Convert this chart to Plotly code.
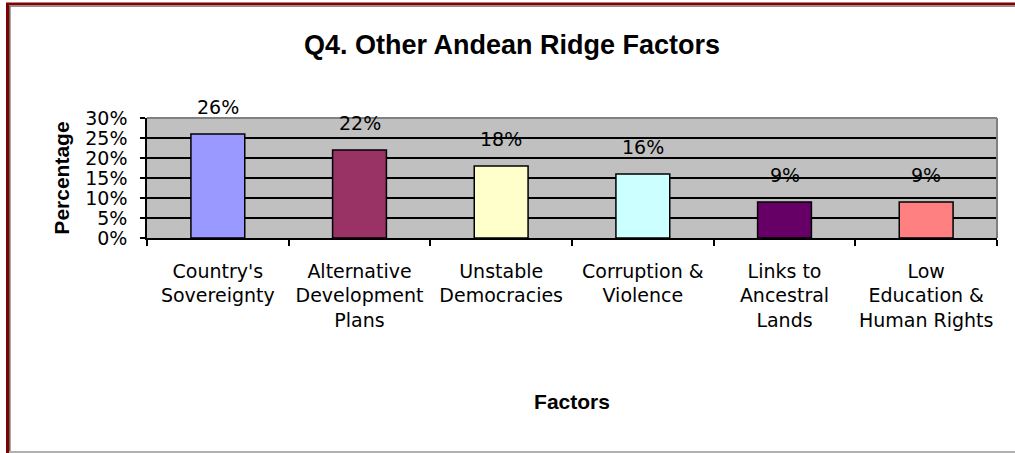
import plotly.graph_objects as go

categories = ["Country's<br>Sovereignty", "Alternative<br>Development<br>Plans",
              "Unstable<br>Democracies", "Corruption &<br>Violence",
              "Links to<br>Ancestral<br>Lands", "Low<br>Education &<br>Human Rights"]
values = [26, 22, 18, 16, 9, 9]
bar_colors = ["#9999FF", "#993366", "#FFFFCC", "#CCFFFF", "#660066", "#FF8080"]
y_ticks = [0, 5, 10, 15, 20, 25, 30]
y_tick_labels = [f"{v}%" for v in y_ticks]

W, H = 1015, 453
ML, MR, MT, MB = 147, 18, 118, 215
PW, PH = W - ML - MR, H - MT - MB

def px_x(x):
    return (x - ML) / PW

def px_y(y):
    return (H - MB - y) / PH

TICK_FONT = dict(family="DejaVu Sans, Verdana, sans-serif", size=19, color="black")
BOLD_FONT = "Liberation Sans, Arial, sans-serif"

fig = go.Figure()
fig.add_trace(go.Bar(
    x=categories, y=values,
    marker=dict(color=bar_colors, line=dict(color="black", width=1.5)),
    showlegend=False, hoverinfo="skip",
))

for c, v in zip(categories, values):
    fig.add_annotation(x=c, y=v, text=f"{v}%", showarrow=False,
                       yanchor="middle", yshift=27, font=TICK_FONT)

shapes = [
    dict(type="line", xref="paper", yref="paper", x0=0, x1=1, y0=1, y1=1,
         line=dict(color="#808080", width=2), layer="above"),
    dict(type="line", xref="paper", yref="paper", x0=1, x1=1, y0=0, y1=1,
         line=dict(color="#808080", width=2), layer="above"),
    dict(type="line", xref="paper", yref="paper", x0=px_x(6), x1=px_x(W), y0=px_y(4), y1=px_y(4),
         line=dict(color="#800000", width=3)),
    dict(type="line", xref="paper", yref="paper", x0=px_x(9), x1=px_x(W), y0=px_y(6.3), y1=px_y(6.3),
         line=dict(color="#909090", width=1.5)),
    dict(type="line", xref="paper", yref="paper", x0=px_x(7.5), x1=px_x(7.5), y0=px_y(3), y1=px_y(H),
         line=dict(color="#800000", width=3)),
    dict(type="line", xref="paper", yref="paper", x0=px_x(9.8), x1=px_x(9.8), y0=px_y(6), y1=px_y(H),
         line=dict(color="#606060", width=1.5)),
    dict(type="line", xref="paper", yref="paper", x0=px_x(9), x1=px_x(W), y0=px_y(452), y1=px_y(452),
         line=dict(color="#B0B0B0", width=2)),
]

fig.update_layout(
    width=W, height=H,
    margin=dict(l=ML, r=MR, t=MT, b=MB, autoexpand=False),
    paper_bgcolor="white", plot_bgcolor="#C0C0C0",
    bargap=0.62,
    shapes=shapes,
    title=dict(text="<b>Q4. Other Andean Ridge Factors</b>", x=512 / W, xanchor="center",
               y=1 - 45 / H, yanchor="middle", xref="container", yref="container",
               font=dict(family=BOLD_FONT, size=27, color="black")),
    font=TICK_FONT,
)
fig.update_xaxes(
    showline=True, linecolor="black", linewidth=1.5,
    ticks="outside", tickson="boundaries", ticklen=6, tickcolor="black", tickwidth=1.5,
    tickfont=TICK_FONT, showgrid=False, tickangle=0, ticklabelstandoff=15,
    title=dict(text="<b>Factors</b>", font=dict(family=BOLD_FONT, size=21, color="black"), standoff=64),
    automargin=False,
)
fig.update_yaxes(
    range=[0, 30], tickvals=y_ticks, ticktext=y_tick_labels,
    showline=True, linecolor="black", linewidth=1.5,
    ticks="outside", ticklen=5, tickcolor="black", tickwidth=1.5,
    showgrid=True, gridcolor="black", gridwidth=1.5, zeroline=False,
    tickfont=TICK_FONT, ticklabelstandoff=9,
    title=dict(text="<b>Percentage</b>", font=dict(family=BOLD_FONT, size=21, color="black"), standoff=10),
    automargin=False,
)

fig.write_html("out.html", config={"displayModeBar": False},
               post_script="document.body.style.margin='0';document.body.style.overflow='hidden';")
